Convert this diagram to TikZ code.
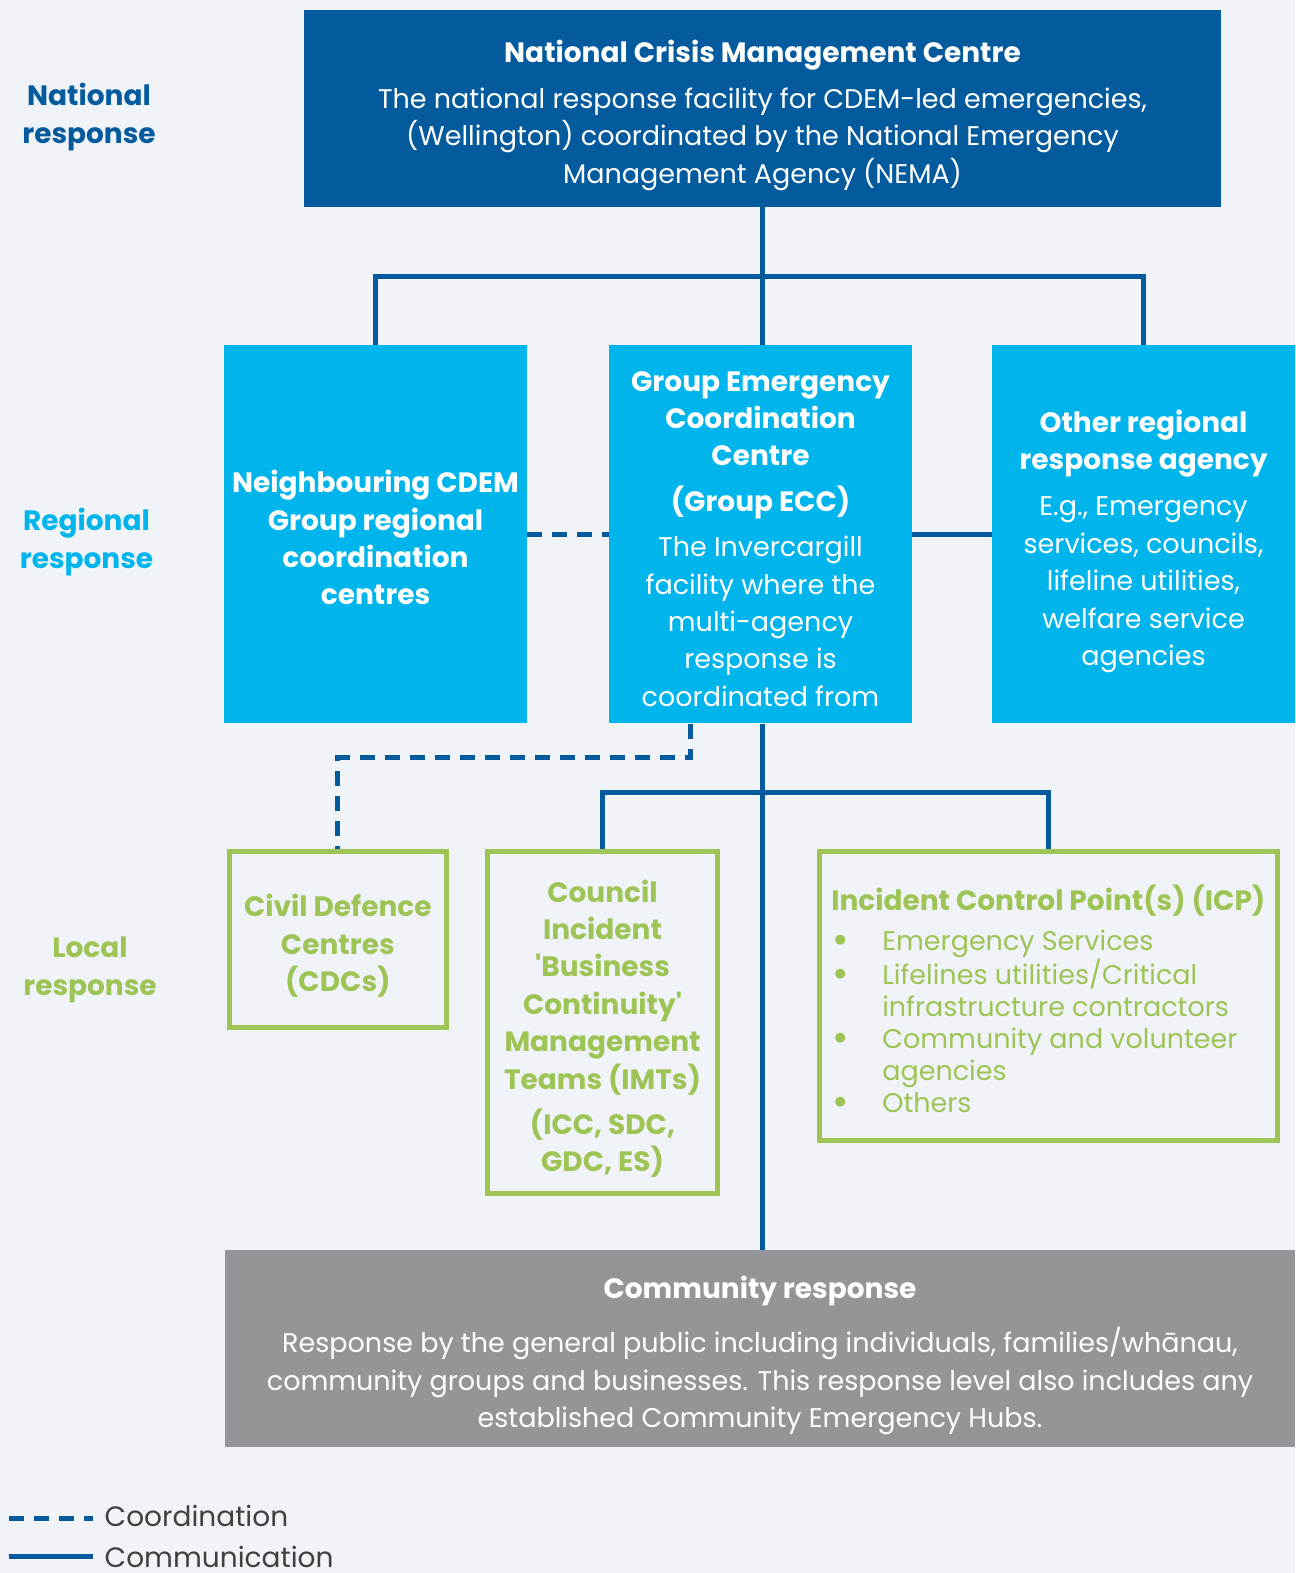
\documentclass[tikz,border=0pt]{standalone}
\usepackage{fontspec}
\setmainfont{Poppins}[Ligatures=TeXOff]
\usetikzlibrary{positioning,calc}

\definecolor{pagebg}{RGB}{240,243,248}
\definecolor{navy}{RGB}{3,90,156}
\definecolor{sky}{RGB}{0,180,236}
\definecolor{leaf}{RGB}{158,196,85}
\definecolor{stone}{RGB}{147,149,152}
\definecolor{ink}{RGB}{64,64,64}

\newcommand{\hd}[1]{{\fontsize{28bp}{37.4bp}\selectfont\bfseries #1}}
\newcommand{\tstrut}{\rule{0pt}{37bp}}
\newcommand{\bstrut}{\rule[-8bp]{0pt}{8bp}}
\newcommand{\bul}{\hspace*{1bp}\makebox[50bp][l]{\smash{\raisebox{-3bp}{\fontsize{40bp}{32bp}\selectfont\textbullet}}}}
\newcommand{\ind}{\hspace*{51bp}}

\begin{document}
\begin{tikzpicture}[x=1bp,y=-1bp,
	box/.style={inner sep=0pt, align=center, text=white, font=\fontsize{27bp}{37.4bp}\selectfont},
	greenbox/.style={draw=leaf, line width=5bp, fill=pagebg, inner sep=0pt, align=center, text=leaf, font=\fontsize{28bp}{37.4bp}\selectfont\bfseries},
	level/.style={align=center, font=\fontsize{28bp}{37.5bp}\selectfont\bfseries},
	commline/.style={draw=navy, line width=5bp},
	coordline/.style={draw=navy, line width=5bp, dash pattern=on 15bp off 10bp}]
	%%%%% BACKGROUND %%%%%
	\fill[pagebg] (0,0) rectangle (1295,1573);
	\useasboundingbox (0,0) rectangle (1295,1573);
	
	%%%%% LEVELS %%%%%
	\node[level, text=navy] (natlabel) at (89,117) {National\\response};
	\node[level, text=sky] (reglabel) at (86.5,542) {Regional\\response};
	\node[level, text=leaf] (loclabel) at (90,970) {Local\\response};
	
	%%%%% NATIONAL %%%%%
	\node[box, fill=navy, minimum width=917bp, minimum height=197bp] (ncmc) at (762.5,108.5)
		{\tstrut\hd{National Crisis Management Centre}\\[8bp]
		The national response facility for CDEM-led emergencies,\\
		(Wellington) coordinated by the National Emergency\\
		Management Agency (NEMA)\bstrut};
	
	%%%%% REGIONAL %%%%%
	\node[box, fill=sky, minimum width=303bp, minimum height=378.3bp] (nbr) at (375.5,534.2)
		{\tstrut\hd{Neighbouring CDEM}\\\hd{Group regional}\\\hd{coordination}\\\hd{centres}\bstrut};
	\node[box, fill=sky, minimum width=303bp, minimum height=378.3bp] (gecc) at (760.5,534.2)
		{\tstrut\hd{Group Emergency}\\\hd{Coordination}\\\hd{Centre}\\[8bp]
		\hd{(Group ECC)}\\[8bp]
		The Invercargill\\facility where the\\multi-agency\\response is\\coordinated from\bstrut};
	\node[box, fill=sky, minimum width=303bp, minimum height=378.3bp] (other) at (1143.5,534.2)
		{\tstrut\hd{Other regional}\\\hd{response agency}\\[9bp]
		E.g., Emergency\\services, councils,\\lifeline utilities,\\welfare service\\agencies\bstrut};
	
	%%%%% LOCAL %%%%%
	\node[greenbox, minimum width=217.5bp, minimum height=176bp] (cdc) at (337.8,939.5)
		{\tstrut Civil Defence\\Centres\\(CDCs)\bstrut};
	\node[greenbox, minimum width=230bp, minimum height=342bp] (council) at (602.5,1022.5)
		{\tstrut Council\\Incident\\'Business\\Continuity'\\Management\\Teams (IMTs)\\[8bp](ICC, SDC,\\GDC, ES)\bstrut};
	\node[greenbox, minimum width=458.3bp, minimum height=289bp, align=left,
		font=\fontsize{27bp}{32bp}\selectfont] (icp) at (1048.3,996.3)
		{\rule{0pt}{39bp}\hd{Incident Control Point(s) (ICP)}\\[8bp]
		\bul Emergency Services\\
		\bul Lifelines utilities/Critical\\
		\ind infrastructure contractors\\
		\bul Community and volunteer\\
		\ind agencies\\
		\bul Others\bstrut};
	
	%%%%% COMMUNITY %%%%%
	\node[box, fill=stone, minimum width=1070bp, minimum height=196.7bp] (community) at (760,1348.3)
		{\tstrut\hd{Community response}\\[17bp]
		Response by the general public including individuals, families/whānau,\\
		community groups and businesses. This response level also includes any\\
		established Community Emergency Hubs.\bstrut};
	
	%%%%% CONNECTORS %%%%%
	\coordinate (njoin) at ($(ncmc.south)!0.5!(gecc.north)$);
	\draw[commline] (ncmc.south) -- (ncmc.south |- gecc.north);
	\draw[commline] (nbr.north) |- (njoin) -| (other.north);
	\draw[coordline] (nbr.east) -- (gecc.west);
	\draw[commline] (gecc.east) -- (other.west);
	
	\coordinate (gdash) at ($(gecc.south west)+(81.7,0)$);
	\draw[coordline] (gdash) -- ++(0,34.4) -| (cdc.north);
	\coordinate (ljoin) at ($(ncmc.south |- gecc.south)+(0,69)$);
	\draw[commline] (ncmc.south |- gecc.south) -- (ncmc.south |- community.north);
	\draw[commline] (council.north) |- (ljoin) -| (icp.north);
	
	%%%%% LEGEND %%%%%
	\coordinate (dashA) at (9.3,1518.3);
	\coordinate (dashB) at (92.7,1518.3);
	\coordinate (solidA) at (9.3,1556.3);
	\coordinate (solidB) at (92.7,1556.3);
	\draw[coordline] (dashA) -- (dashB);
	\draw[commline] (solidA) -- (solidB);
	\node[anchor=west, inner sep=0pt, text=ink, font=\fontsize{28bp}{30bp}\selectfont] (coordtext) at (104.5,1516) {Coordination};
	\node[anchor=west, inner sep=0pt, text=ink, font=\fontsize{28bp}{30bp}\selectfont] (commtext) at (104.5,1556.5) {Communication};
\end{tikzpicture}
\end{document}
